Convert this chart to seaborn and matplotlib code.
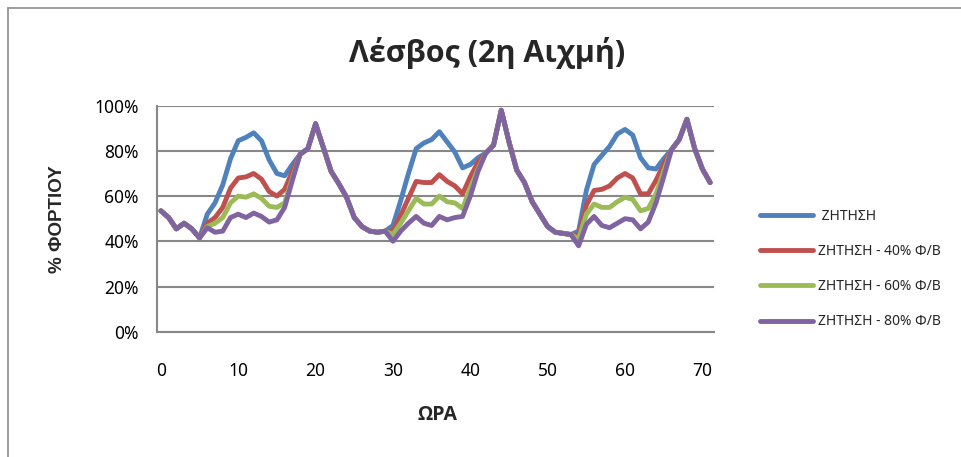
import matplotlib
matplotlib.use("Agg")
import matplotlib.pyplot as plt
from matplotlib.lines import Line2D
from matplotlib.ticker import MultipleLocator, PercentFormatter
import seaborn as sns
import pandas as pd

# Hourly load (% of peak) over three days, Lesvos
hours = list(range(72))

demand = [53.5, 50.5, 45.5, 48.0, 45.5, 41.5,
          52.0, 57.0, 65.0, 76.5, 84.5, 86.0, 88.0, 84.5, 76.0, 70.0, 69.0, 74.0,
          78.5, 81.0, 92.0, 81.5, 71.0, 65.5, 59.5, 50.5, 46.5, 44.5, 44.0, 44.5,
          47.0, 58.0, 70.0, 81.0, 83.5, 85.0, 88.5, 84.0, 79.5, 72.5, 74.0, 77.0,
          79.0, 82.5, 98.0, 84.0, 71.5, 66.0, 57.5, 52.0, 46.5, 44.0, 43.5, 43.0,
          44.5, 62.5, 74.0, 78.0, 82.0, 87.5, 89.5, 87.0, 77.0, 72.5, 72.0, 76.5,
          80.5, 85.0, 94.0, 81.0, 72.0, 66.0]

pv40 = [53.5, 50.5, 45.5, 48.0, 45.5, 41.5,
        48.0, 50.5, 55.0, 63.5, 68.0, 68.5, 70.0, 67.5, 62.0, 60.0, 63.0, 71.0,
        78.5, 81.0, 92.0, 81.5, 71.0, 65.5, 59.5, 50.5, 46.5, 44.5, 44.0, 44.5,
        44.5, 51.5, 59.0, 66.5, 66.0, 66.0, 69.5, 66.5, 64.5, 61.0, 68.5, 75.0,
        79.0, 82.5, 98.0, 84.0, 71.5, 66.0, 57.5, 52.0, 46.5, 44.0, 43.5, 43.0,
        42.5, 56.0, 62.5, 63.0, 64.5, 68.0, 70.0, 68.0, 61.0, 61.0, 67.0, 74.0,
        80.5, 85.0, 94.0, 81.0, 72.0, 66.0]

pv60 = [53.5, 50.5, 45.5, 48.0, 45.5, 41.5,
        46.5, 48.0, 50.5, 57.0, 60.0, 59.5, 61.0, 59.0, 55.5, 55.0, 57.0, 68.0,
        78.5, 81.0, 92.0, 81.5, 71.0, 65.5, 59.5, 50.5, 46.5, 44.5, 44.0, 44.5,
        43.0, 48.0, 53.5, 59.0, 56.5, 56.5, 60.0, 57.5, 57.0, 54.5, 63.5, 72.0,
        79.0, 82.5, 98.0, 84.0, 71.5, 66.0, 57.5, 52.0, 46.5, 44.0, 43.5, 43.0,
        41.0, 52.0, 56.5, 55.0, 55.0, 57.5, 59.5, 58.5, 53.5, 54.5, 61.0, 71.0,
        80.5, 85.0, 94.0, 81.0, 72.0, 66.0]

pv80 = [53.5, 50.5, 45.5, 48.0, 45.5, 41.5,
        46.0, 44.0, 44.5, 50.5, 52.0, 50.5, 52.5, 51.0, 48.5, 49.5, 55.0, 67.0,
        78.5, 81.0, 92.0, 81.5, 71.0, 65.5, 59.5, 50.5, 46.5, 44.5, 44.0, 44.5,
        40.0, 44.5, 48.0, 51.0, 48.0, 47.0, 51.0, 49.5, 50.5, 51.0, 60.0, 71.0,
        79.0, 82.5, 98.0, 84.0, 71.5, 66.0, 57.5, 52.0, 46.5, 44.0, 43.5, 43.0,
        38.0, 47.5, 51.0, 47.0, 46.0, 48.0, 50.0, 49.5, 45.5, 48.5, 57.0, 68.5,
        80.5, 85.0, 94.0, 81.0, 72.0, 66.0]

series_names = [" ΖΗΤΗΣΗ", "ΖΗΤΗΣΗ - 40% Φ/Β", "ΖΗΤΗΣΗ - 60% Φ/Β", "ΖΗΤΗΣΗ - 80% Φ/Β"]
colors = ["#4F81BD", "#C0504D", "#9BBB59", "#8064A2"]

title_text = "Λέσβος (2η Αιχμή)"
xlabel_text = "ΩΡΑ"
ylabel_text = "% ΦΟΡΤΙΟΥ"

frames = []
for name, vals in zip(series_names, [demand, pv40, pv60, pv80]):
    frames.append(pd.DataFrame({"hour": hours, "load": vals, "series": name}))
df = pd.concat(frames, ignore_index=True)

sns.set_style("white")
plt.rcParams["font.family"] = ["Noto Sans", "DejaVu Sans"]

GRID = "#888888"

fig = plt.figure(figsize=(9.61, 4.57), dpi=100)
ax = fig.add_axes([157 / 961, 1 - 331.7 / 457, (714 - 157) / 961, (331.7 - 105.7) / 457])

sns.lineplot(data=df, x="hour", y="load", hue="series", hue_order=series_names,
             palette=colors, linewidth=3.5, ax=ax, legend=False)
for ln in ax.lines:
    ln.set_solid_joinstyle("round")
    ln.set_solid_capstyle("round")

ax.set_xlim(-0.5, 71.5)
ax.set_ylim(0, 100)
ax.yaxis.set_major_locator(MultipleLocator(20))
ax.yaxis.set_major_formatter(PercentFormatter(decimals=0))
ax.set_xticks(list(range(0, 71, 10)))
ax.set_xticks([-0.5 + 10 * k for k in range(8)], minor=True)

ax.grid(axis="y", color=GRID, linewidth=1.5)
ax.grid(axis="x", visible=False)
ax.set_axisbelow(True)
for side in ("top", "right"):
    ax.spines[side].set_visible(False)
for side in ("left", "bottom"):
    ax.spines[side].set_color(GRID)
    ax.spines[side].set_linewidth(1.5)

ax.tick_params(axis="x", which="major", length=0, pad=22, labelsize=12.5, labelcolor="black")
ax.tick_params(axis="x", which="minor", length=5, width=1.5, color=GRID, direction="out")
ax.tick_params(axis="y", which="major", length=5, width=1.5, color=GRID, direction="out",
               pad=8, labelsize=12.5, labelcolor="black")
ax.set_xlabel("")
ax.set_ylabel("")

fig.text(487 / 961, 1 - 53 / 457, title_text, ha="center", va="center",
         fontsize=22, fontweight="bold", family=["Open Sans", "DejaVu Sans"])
fig.text(437 / 961, 1 - 415 / 457, xlabel_text, ha="center", va="center",
         fontsize=14, fontweight="bold", family=["Open Sans", "DejaVu Sans"])
fig.text(57 / 961, 1 - 219 / 457, ylabel_text, ha="center", va="center", rotation=90,
         fontsize=13.5, fontweight="bold", family=["Liberation Sans", "DejaVu Sans"])

handles = [Line2D([0], [0], color=c, linewidth=3.5, solid_capstyle="round") for c in colors]
fig.legend(handles, series_names, loc="upper left",
           bbox_to_anchor=(760 / 961, 1 - 209 / 457), frameon=False,
           fontsize=10, handlelength=3.8, handletextpad=0.35, labelspacing=1.45,
           borderpad=0, borderaxespad=0)

# outer chart frame
fig.add_artist(Line2D([8 / 961, 8 / 961], [0, 1 - 8 / 457], color="#8c8c8c", linewidth=1.2))
fig.add_artist(Line2D([8 / 961, 1], [1 - 8 / 457, 1 - 8 / 457], color="#8c8c8c", linewidth=1.2))

fig.savefig("out.png", dpi=100)
